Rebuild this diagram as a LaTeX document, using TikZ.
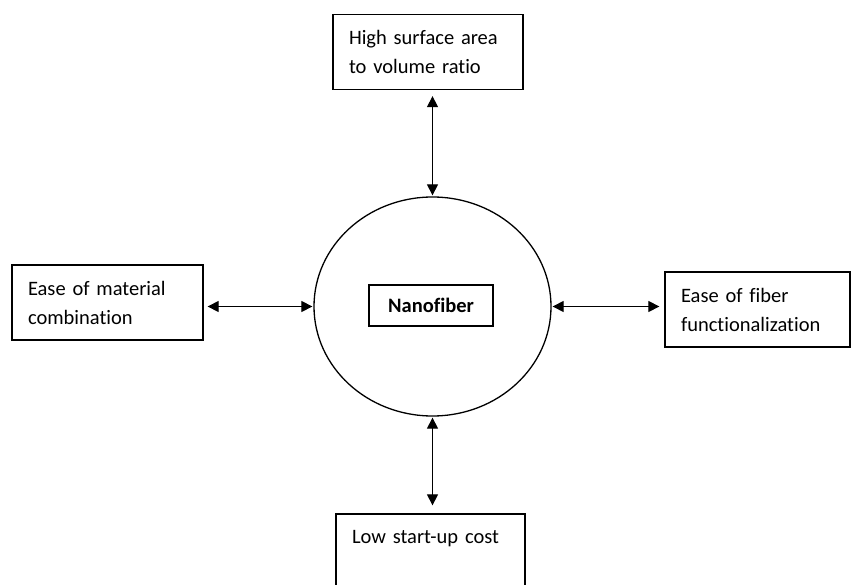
\documentclass[tikz,border=0pt]{standalone}
\usepackage{fontspec}
\setmainfont[Ligatures={NoCommon}]{Carlito}
\usetikzlibrary{shapes.geometric,arrows.meta}
\begin{document}
\begin{tikzpicture}[x=1pt,y=1pt,
  box/.style={draw, line width=1.3pt, rectangle, align=left, inner xsep=16pt, inner ysep=0pt,
    font=\fontsize{20.5}{29}\selectfont, minimum height=75pt},
  hub/.style={draw, line width=1.3pt, ellipse, inner sep=0pt, minimum width=237pt, minimum height=219pt},
  tag/.style={draw, line width=1.3pt, rectangle, inner sep=0pt, minimum width=124pt, minimum height=41pt,
    font=\fontsize{20.5}{24}\selectfont\bfseries},
  link/.style={line width=1.2pt, {Triangle[length=11pt,width=11pt]}-{Triangle[length=11pt,width=11pt]}}]
\fill[white] (0,0) rectangle (851,-585);
\useasboundingbox (0,0) rectangle (851,-585);
\node[hub] (hub) at (432.5,-306.5) {};
\node[tag] (nano) at (431,-305.5) {Nanofiber};
\node[box, text width=158pt] (top) at (428,-52) {High surface area\\to volume ratio};
\node[box, text width=159pt] (left) at (107.5,-302.5) {Ease of material\\combination};
\node[box, text width=153pt] (right) at (757.5,-309.5) {Ease of fiber\\functionalization};
\node[box, text width=157pt] (bottom) at (430.5,-551.5) {Low start-up cost\\\mbox{}};
\draw[link, shorten <=6pt, shorten >=1pt] (hub.north |- top.south) -- (hub.north);
\draw[link, shorten <=1pt, shorten >=8pt] (hub.south) -- (hub.south |- bottom.north);
\draw[link, shorten <=4pt, shorten >=1pt] (hub.west -| left.east) -- (hub.west);
\draw[link, shorten <=1pt, shorten >=5pt] (hub.east) -- (hub.east -| right.west);
\end{tikzpicture}
\end{document}
